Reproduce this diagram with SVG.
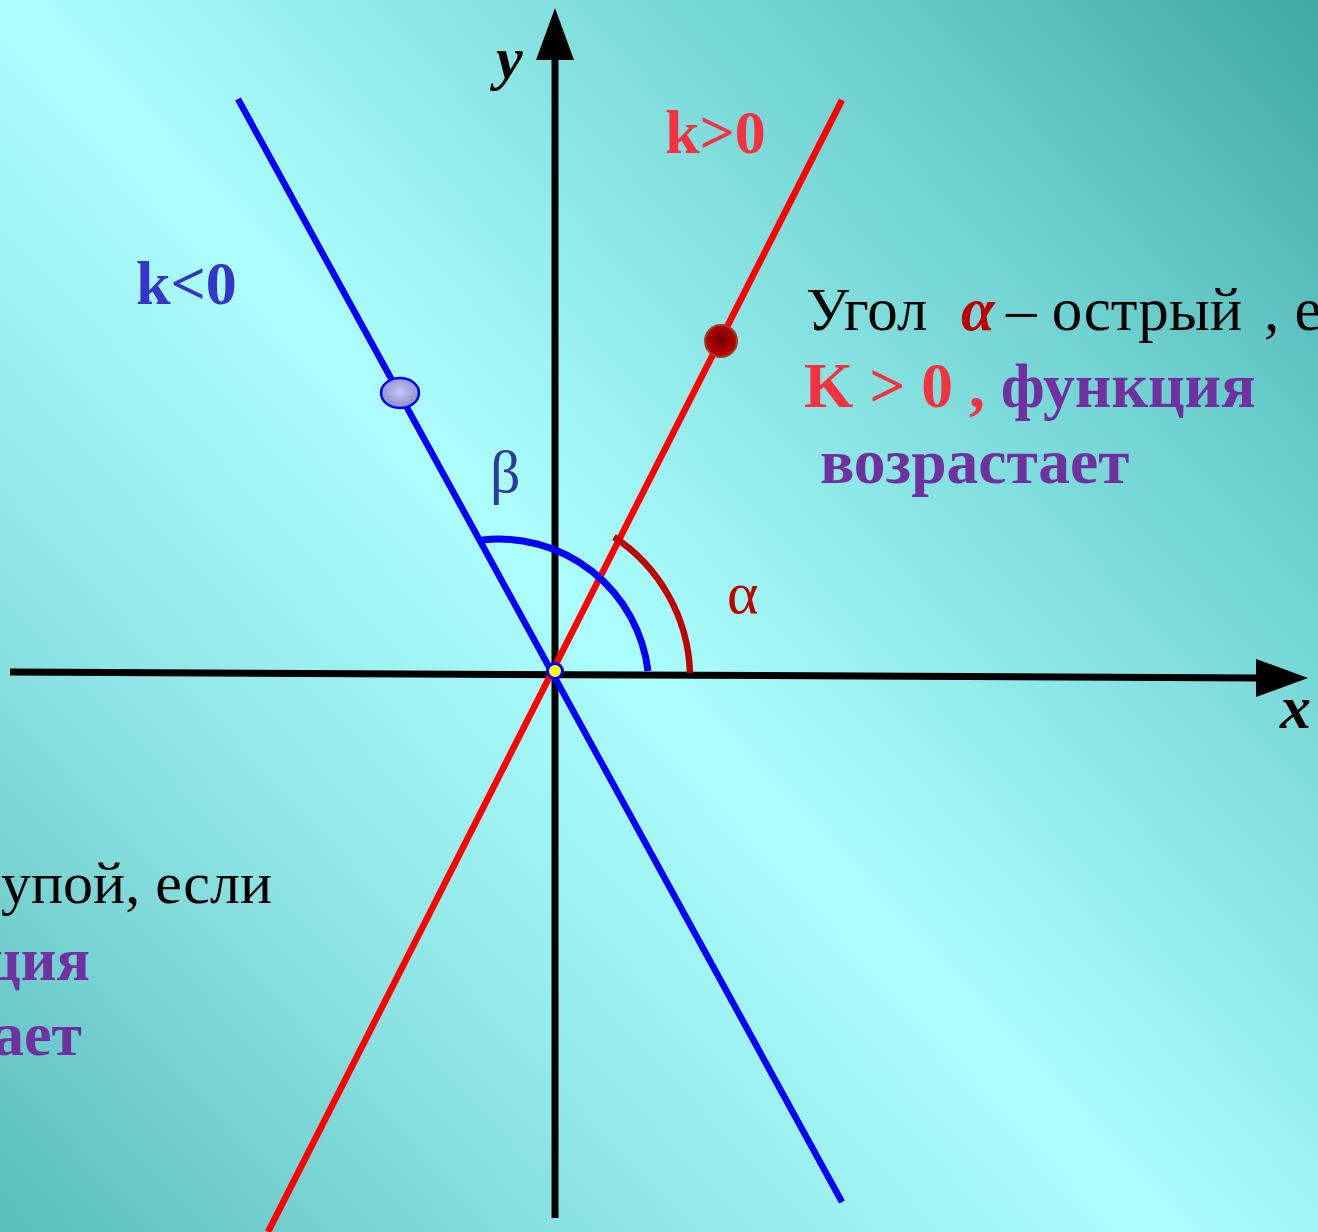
<svg xmlns="http://www.w3.org/2000/svg" width="1318" height="1232" viewBox="0 0 1318 1232">
<defs>
<linearGradient id="bg" gradientUnits="userSpaceOnUse" x1="1318" y1="0" x2="0" y2="1232">
<stop offset="0" stop-color="#3fa8a6"/>
<stop offset="0.2" stop-color="#6ccfce"/>
<stop offset="0.53" stop-color="#adfefe"/>
<stop offset="0.75" stop-color="#8ee4e4"/>
<stop offset="1" stop-color="#5bbcbc"/>
</linearGradient>
<radialGradient id="blueDot" cx="0.5" cy="0.45" r="0.6">
<stop offset="0" stop-color="#c8c8ff"/>
<stop offset="1" stop-color="#8686c0"/>
</radialGradient>
<radialGradient id="redDot" cx="0.5" cy="0.45" r="0.6">
<stop offset="0" stop-color="#6a0000"/>
<stop offset="1" stop-color="#d00000"/>
</radialGradient>
</defs>
<style>
.serif{font-family:"Liberation Serif","Times New Roman",serif;}
.b{font-weight:bold;}
.axis{stroke:#000;stroke-width:7;fill:none;}
.red{stroke:#ff0000;stroke-width:6.5;fill:none;}
.blue{stroke:#0000ff;stroke-width:6.5;fill:none;}
.purple{fill:#7030a0;}
.kred{fill:#f5303f;}
</style>
<rect x="0" y="0" width="1318" height="1232" fill="url(#bg)"/>

<g id="connectors">
<g id="axes">
<line class="axis" x1="10" y1="672" x2="1262" y2="678"/>
<polygon points="1308,678 1256,659 1256,697" fill="#000"/>
<line class="axis" x1="555" y1="1218" x2="555" y2="55"/>
<polygon points="555,8 536,60 574,60" fill="#000"/>
</g>
<line id="line-k-pos" class="red" x1="268" y1="1232" x2="842" y2="100"/>
<line id="line-k-neg" class="blue" x1="238" y1="99" x2="842" y2="1202"/>
<path id="arc-beta" d="M482,540 A150,150 0 0 1 648,671" stroke="#0000ff" stroke-width="7" fill="none"/>
<path id="arc-alpha" d="M614,537 A169,169 0 0 1 690,673" stroke="#c00000" stroke-width="6.5" fill="none"/>
</g>

<g id="point-blue"><ellipse cx="400" cy="393" rx="19" ry="15" fill="url(#blueDot)" stroke="#0000ff" stroke-width="2.5"/></g>
<g id="point-red"><circle cx="721" cy="341" r="16" fill="url(#redDot)" stroke="#a0401a" stroke-width="2"/></g>
<g id="origin"><circle cx="555" cy="671" r="7.5" fill="#ffff00" stroke="#0000ff" stroke-width="3"/></g>

<g id="labels" class="serif">
<text x="496" y="78" font-size="60" font-weight="bold" font-style="italic" fill="#000">y</text>
<text x="1280" y="728" font-size="62" font-weight="bold" font-style="italic" fill="#000">x</text>
<text x="665" y="153" font-size="62" class="b kred">k&gt;0</text>
<text x="136" y="304" font-size="62" class="b" fill="#3535c8">k&lt;0</text>
<text x="490" y="492" font-size="60" fill="#2b3b9b">β</text>
<text x="727" y="613" font-size="60" fill="#c00000">α</text>
</g>

<g id="text-right" class="serif">
<text y="330" font-size="61" fill="#000"><tspan x="806">Угол</tspan><tspan x="961" font-weight="bold" font-style="italic" fill="#c00000">α</tspan><tspan x="1006">– острый</tspan><tspan x="1264">, е</tspan></text>
<text x="804" y="407" font-size="63.5" class="b"><tspan class="kred">K &gt; 0 , </tspan><tspan class="purple">функция</tspan></text>
<text x="820" y="483" font-size="63.5" class="b purple">возрастает</text>
</g>

<g id="text-left" class="serif">
<text x="272" y="903" font-size="60" fill="#000" text-anchor="end">упой, если</text>
<text x="90" y="980" font-size="62" class="b purple" text-anchor="end">ция</text>
<text x="82" y="1055" font-size="62" class="b purple" text-anchor="end">ает</text>
</g>
</svg>
